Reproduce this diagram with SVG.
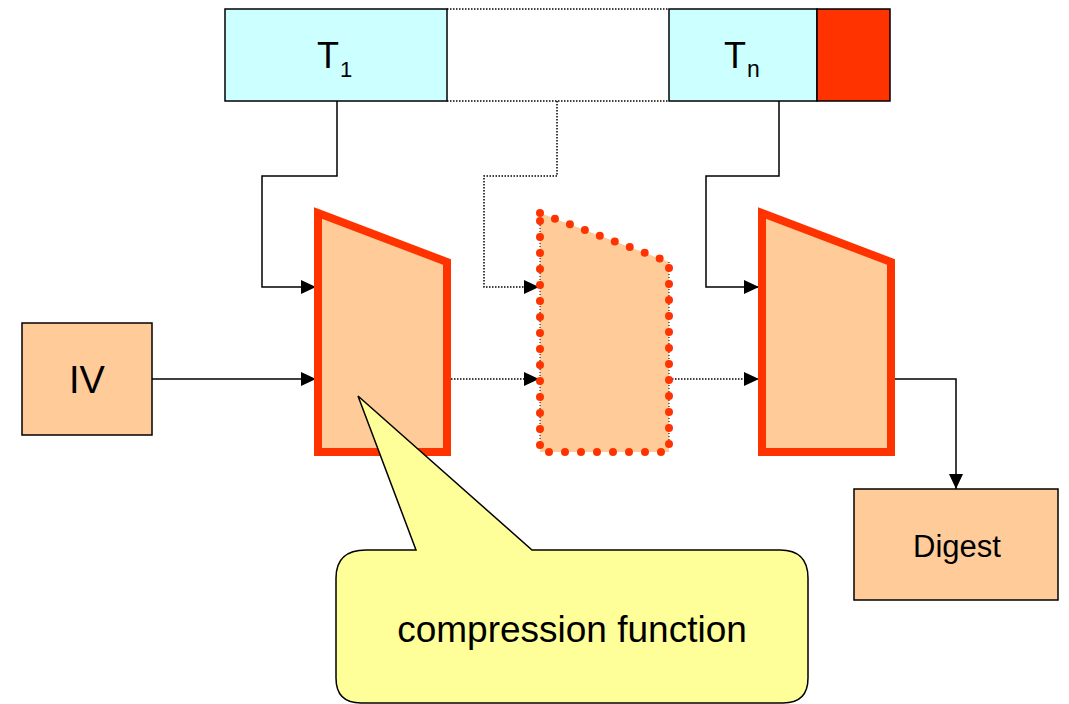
<svg xmlns="http://www.w3.org/2000/svg" width="1069" height="704" viewBox="0 0 1069 704">
  <style>
    .block { fill: #CCFFFF; stroke: #000; stroke-width: 1.5; }
    .box { fill: #FFCC99; stroke: #000; stroke-width: 1.5; }
    .cf { fill: #FFCC99; stroke: #FF3300; stroke-width: 8; stroke-linejoin: miter; }
    .cf-dots { fill: none; stroke: #FF3300; stroke-width: 8; stroke-linecap: round; stroke-dasharray: 0 16; }
    .wire { fill: none; stroke: #000; stroke-width: 1.5; }
    .dot { fill: none; stroke: #000; stroke-width: 1.5; stroke-dasharray: 1.5 1.5; }
    .thin-dot { fill: none; stroke: #000; stroke-width: 1; stroke-dasharray: 1 2; }
    .lbl { font-family: "Liberation Sans", Arial, sans-serif; fill: #000; }
  </style>
  <defs>
    <marker id="arrow" viewBox="0 0 15 14" refX="15" refY="7" markerWidth="15" markerHeight="14" markerUnits="userSpaceOnUse" orient="auto">
      <path d="M0,0 L15,7 L0,14 z" fill="#000"/>
    </marker>
  </defs>

  <!-- message blocks -->
  <g id="block-t1">
    <rect class="block" x="225" y="9" width="222" height="92"/>
    <text class="lbl" x="317" y="68" font-size="36">T</text>
    <text class="lbl" x="340" y="77" font-size="22">1</text>
  </g>
  <g id="block-tn">
    <rect class="block" x="669" y="9" width="148" height="92"/>
    <text class="lbl" x="724" y="68" font-size="36">T</text>
    <text class="lbl" x="747" y="77" font-size="23">n</text>
  </g>
  <g id="padding">
    <rect x="817" y="9" width="73" height="92" fill="#FF3300" stroke="#000" stroke-width="1.5"/>
  </g>

  <!-- connectors -->
  <g id="connectors">
    <line class="dot" x1="447" y1="9" x2="669" y2="9"/>
    <line class="dot" x1="447" y1="101" x2="669" y2="101"/>
    <polyline class="wire" points="337,101 337,176 262,176 262,287 316,287" marker-end="url(#arrow)"/>
    <polyline class="dot" points="557,101 557,176 484,176 484,287 539,287" marker-end="url(#arrow)"/>
    <polyline class="wire" points="779,101 779,176 706,176 706,287 759,287" marker-end="url(#arrow)"/>
    <line class="wire" x1="152" y1="379" x2="316" y2="379" marker-end="url(#arrow)"/>
    <line class="dot" x1="451" y1="379" x2="539" y2="379" marker-end="url(#arrow)"/>
    <line class="dot" x1="669" y1="379" x2="759" y2="379" marker-end="url(#arrow)"/>
    <polyline class="wire" points="895,379 956,379 956,489" marker-end="url(#arrow)"/>
  </g>

  <!-- compression stages -->
  <g id="cf-1">
    <polygon class="cf" points="318,213 447,262 447,452 318,452"/>
  </g>
  <g id="cf-mid">
    <polygon points="540,213 669,262 669,452 540,452" fill="#FFCC99"/>
    <line class="thin-dot" x1="540" y1="222" x2="540" y2="448"/>
    <line class="thin-dot" x1="669" y1="262" x2="669" y2="448"/>
    <polygon class="cf-dots" points="540,213 669,262 669,452 540,452"/>
  </g>
  <g id="cf-n">
    <polygon class="cf" points="762,213 891,262 891,452 762,452"/>
  </g>

  <!-- IV and digest -->
  <g id="iv">
    <rect class="box" x="22" y="323" width="130" height="112"/>
    <text class="lbl" x="87" y="393" font-size="38" text-anchor="middle">IV</text>
  </g>
  <g id="digest">
    <rect class="box" x="854" y="489" width="204" height="111"/>
    <text class="lbl" x="957" y="557" font-size="31" text-anchor="middle">Digest</text>
  </g>

  <!-- callout -->
  <g id="callout">
    <path d="M366,550 L416,550 L358,396 L532,550 L780,550 Q808,550 808,578 L808,678 Q808,703 783,703 L361,703 Q336,703 336,678 L336,578 Q336,550 366,550 Z" fill="#FFFF99" stroke="#000" stroke-width="1.5" stroke-linejoin="miter"/>
    <text class="lbl" x="572" y="642" font-size="37" text-anchor="middle">compression function</text>
  </g>
</svg>
